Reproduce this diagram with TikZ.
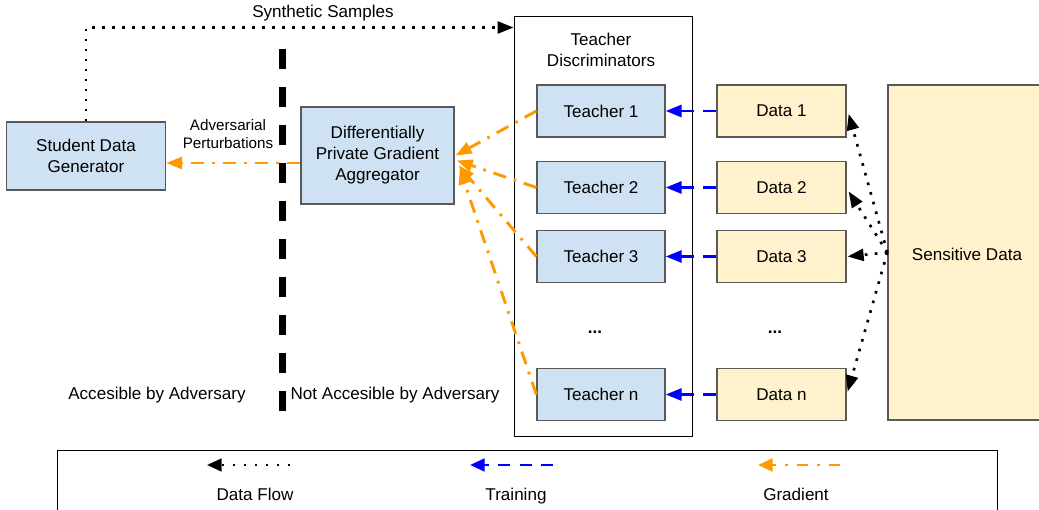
\documentclass[tikz,border=0pt]{standalone}
\usepackage{fontspec}
\setmainfont{Liberation Sans}
\usetikzlibrary{arrows.meta,calc}
\definecolor{boxblue}{HTML}{CFE2F3}
\definecolor{boxyellow}{HTML}{FFF2CC}
\definecolor{gradorange}{HTML}{FF9900}
\definecolor{boxline}{HTML}{595959}
\tikzset{
  bluebox/.style={draw=boxline, line width=1pt, fill=boxblue, align=center, inner sep=0pt},
  yellowbox/.style={draw=boxline, line width=1pt, fill=boxyellow, align=center, inner sep=0pt},
  teacherbox/.style={bluebox, minimum width=96pt, minimum height=39pt},
  databox/.style={yellowbox, minimum width=96.75pt, minimum height=39pt},
  bigtip/.style={-{Triangle[length=12pt,width=9pt]}},
  smalltip/.style={-{Triangle[length=11pt,width=9.5pt]}},
  flowline/.style={black, line width=2pt, dash pattern=on 2pt off 5.5pt, bigtip},
  trainline/.style={blue, line width=2.2pt, dash pattern=on 10pt off 7pt, bigtip},
  gradline/.style={gradorange, line width=2.2pt, dash pattern=on 10pt off 6pt on 2pt off 6pt, bigtip},
  legendtext/.style={anchor=base},
}
\begin{document}
\begin{tikzpicture}[x=0.75pt, y=-0.75pt, font=\fontsize{12.8}{15.75}\selectfont]
  \useasboundingbox (0,0) rectangle (1039,510);

  % left side
  \node[bluebox, minimum width=119.25pt, minimum height=51pt] (student) at (86,156) {Student Data\\Generator};
  \node[bluebox, minimum width=114.75pt, minimum height=72.75pt] (dpga) at (377.5,155.5) {Differentially\\Private Gradient\\Aggregator};
  \draw[line width=5.25pt, dash pattern=on 15pt off 13.5pt] (282,49) -- (282,420);
  \node (acc) at (157,395) {Accesible by Adversary};
  \node (notacc) at (395,395) {Not Accesible by Adversary};

  % teachers
  \node[draw, line width=0.75pt, minimum width=133.5pt, minimum height=314.25pt] (frame) at (603,226.5) {};
  \node[align=center] (tdisc) at (601,50) {Teacher\\Discriminators};
  \node[teacherbox] (t1) at (601,111) {Teacher 1};
  \node[teacherbox] (t2) at (601,187.5) {Teacher 2};
  \node[teacherbox] (t3) at (601,256.5) {Teacher 3};
  \node (tdots) at (595,332) {\textbf{...}};
  \node[teacherbox] (tn) at (601,394.5) {Teacher n};

  % data
  \node[databox] (d1) at (781.5,111) {Data 1};
  \node[databox] (d2) at (781.5,187.5) {Data 2};
  \node[databox] (d3) at (781.5,256.5) {Data 3};
  \node (ddots) at (775,332) {\textbf{...}};
  \node[databox] (dn) at (781.5,394.5) {Data n};
  \node[yellowbox, minimum width=118.5pt, minimum height=251.25pt] (sens) at (967,252.5) {};
  \node (senstext) at (967,254) {Sensitive Data};

  % data flow
  \draw[flowline] (student.north) |- ($(frame.north west)+(0,11)$);
  \node (synth) at (323,13) {Synthetic Samples};
  \draw[flowline] (sens.west) -- ($(d1.east)+(2,3)$);
  \draw[flowline] (sens.west) -- ($(d2.east)+(2,4)$);
  \draw[flowline] (sens.west) -- ($(d3.east)+(1,0)$);
  \draw[flowline] (sens.west) -- ($(dn.east)+(1,-3)$);

  % training
  \draw[trainline] (d1.west) -- (t1.east);
  \draw[trainline] (d2.west) -- (t2.east);
  \draw[trainline] (d3.west) -- (t3.east);
  \draw[trainline] (dn.west) -- (tn.east);

  % gradients
  \draw[gradline] (t1.west) -- ($(dpga.east)+(1,0)$);
  \draw[gradline] (t2.west) -- ($(dpga.east)+(2,5)$);
  \draw[gradline] (t3.west) -- ($(dpga.east)+(4,10)$);
  \draw[gradline] (tn.west) -- ($(dpga.east)+(5,13)$);
  \draw[gradline] ($(dpga.west)+(0,7.5)$) -- ($(student.east)+(0,7)$);
  \node[align=center, font=\fontsize{11.4}{13.5}\selectfont] (advpert) at (228,134) {Adversarial\\Perturbations};

  % legend
  \draw[line width=0.75pt] (57,450) rectangle (997,520);
  \draw[black, line width=2pt, dash pattern=on 1.8pt off 6.4pt, smalltip] (290,465) -- (207,465);
  \draw[blue, line width=2.2pt, dash pattern=on 9pt off 7pt, smalltip] (553,465) -- (470,465);
  \draw[gradorange, line width=2.2pt, dash pattern=on 8pt off 7pt on 2pt off 7pt, smalltip] (840,465) -- (758,465);
  \node[legendtext] (lgflow) at (255,500) {Data Flow};
  \node[legendtext] (lgtrain) at (516,500) {Training};
  \node[legendtext] (lggrad) at (796,500) {Gradient};
\end{tikzpicture}
\end{document}
